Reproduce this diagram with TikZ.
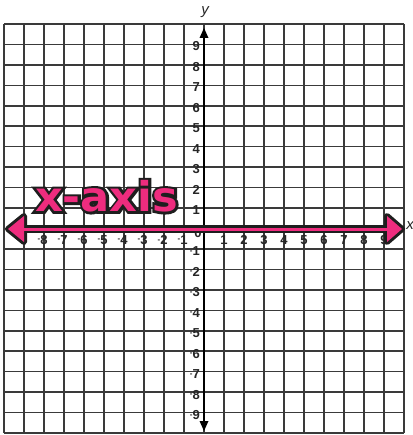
\documentclass[tikz,border=0pt]{standalone}
\usepackage{fontspec}
\setmainfont{Liberation Sans}
\newfontfamily\dejafont{DejaVu Sans}
\newfontfamily\dejafat[FakeBold=12]{DejaVu Sans Bold}
\definecolor{hotpink}{RGB}{238,44,126}
\definecolor{gridgray}{RGB}{58,58,58}
\definecolor{outl}{RGB}{30,30,30}
\tikzset{
  gridline/.style={draw=gridgray, line width=1.6pt},
  numlab/.style={font=\bfseries\fontsize{13}{13}\selectfont, inner sep=0pt, text=black!85},
  axlab/.style={font=\itshape\fontsize{15}{15}\selectfont, inner sep=0pt, text=black!85},
  bigtxt/.style={font=\dejafont\bfseries\fontsize{41}{41}\selectfont, inner sep=0pt, anchor=base west, xscale=1.05},
  bigout/.style={font=\dejafat\fontsize{41}{41}\selectfont, inner sep=0pt, anchor=base west, xscale=1.05},
}
\newcommand{\smallminus}{\llap{\raisebox{2.5pt}{\fontsize{8}{8}\selectfont -}}}
\begin{document}
\begin{tikzpicture}[x=1pt,y=-1pt]
\useasboundingbox (0,0) rectangle (412,435);
\fill[white] (0,0) rectangle (412,435);
% grid
\foreach \i in {0,...,20} \draw[gridline] (4+20*\i,24) -- (4+20*\i,433);
\foreach \j in {0,...,20} \draw[gridline] (4,24+20.45*\j) -- (404,24+20.45*\j);
% y axis
\coordinate (ytop) at (204,37);
\coordinate (ybot) at (204,421);
\draw[black, line width=2pt] (ytop) -- (ybot);
\fill[black] (204,28) -- (199.5,38) -- (208.5,38) -- cycle;
\fill[black] (204,431) -- (199.5,421) -- (208.5,421) -- cycle;
% y labels
\foreach \k in {1,...,9} \node[numlab, anchor=east] (yp\k) at (200, 228.5-20.45*\k+2) {\k};
\foreach \k in {1,...,9} \node[numlab, anchor=east] (yn\k) at (200, 228.5+20.45*\k+2.5) {\smallminus\k};
% x labels
\foreach \k in {1,...,8} \node[numlab] (xp\k) at (204+20*\k, 240) {\k};
\node[numlab] (xp9) at (384, 240) {9};
\foreach \k in {1,...,8} \node[numlab] (xn\k) at (204-20*\k, 240) {\smallminus\k};
\node[numlab] (xn9) at (24, 240) {\smallminus9};
\node[numlab] (zero) at (198, 233) {0};
% axis names
\node[axlab] (ylab) at (205,12) {y};
\node[axlab] (xlab) at (410,226) {x};
% pink x axis: black outline layer
\coordinate (xl) at (20,229);
\coordinate (xr) at (389,229);
\draw[outl, line width=8pt] (xl) -- (xr);
\draw[outl, line width=6pt, line join=round, fill=outl] (8,229) -- (24,216) -- (24,242) -- cycle;
\draw[outl, line width=6pt, line join=round, fill=outl] (402,229) -- (387,216) -- (387,242) -- cycle;
% pink layer
\fill[hotpink] (8,229) -- (24,216) -- (24,242) -- cycle;
\fill[hotpink] (402,229) -- (387,216) -- (387,242) -- cycle;
\draw[hotpink, line width=3pt] (xl) -- (xr);
% x-axis text with outline
\node[bigout, text=outl] (xaxisout) at (35,211.5) {x-axis};
\node[bigtxt, text=hotpink] (xaxistxt) at (35,211.5) {x-axis};
\end{tikzpicture}
\end{document}
